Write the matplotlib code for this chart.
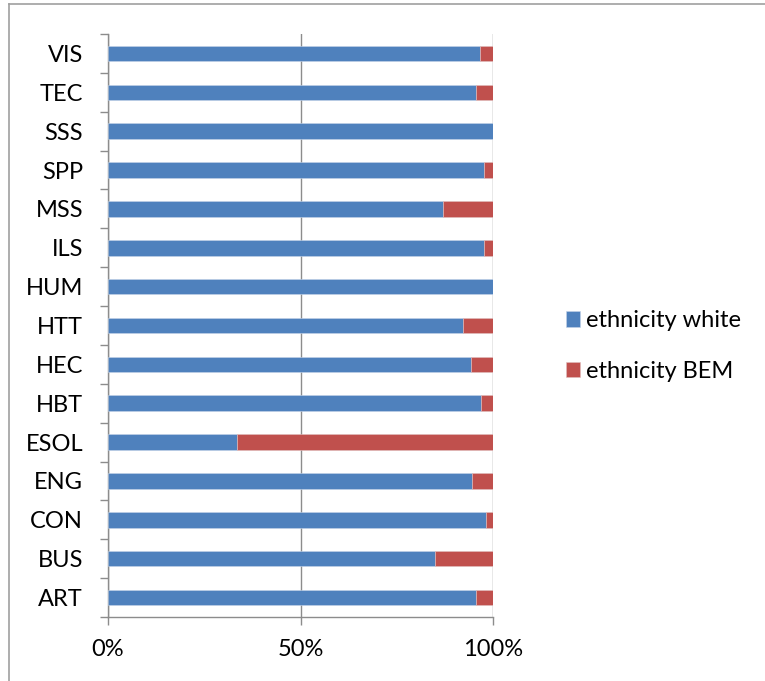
import matplotlib
matplotlib.use("Agg")
import matplotlib.pyplot as plt
from matplotlib.lines import Line2D
from matplotlib.ticker import FuncFormatter, FixedLocator

categories = ["ART", "BUS", "CON", "ENG", "ESOL", "HBT", "HEC", "HTT", "HUM",
              "ILS", "MSS", "SPP", "SSS", "TEC", "VIS"]
white = [0.956, 0.849, 0.982, 0.945, 0.335, 0.968, 0.942, 0.923, 1.0,
         0.977, 0.871, 0.977, 1.0, 0.956, 0.966]
bem = [1 - w for w in white]
xticks = [0, 0.5, 1.0]

plt.rcParams['font.family'] = ['Lato', 'DejaVu Sans']

W, H = 765, 681
fig = plt.figure(figsize=(W / 100, H / 100), dpi=100)
ax = fig.add_axes([108 / W, 1 - 617 / H, (493 - 108) / W, (617 - 34) / H])

gray = "#8c8c8c"
fs = 17
# outer frame (left and top edges visible)
fig.add_artist(Line2D([9 / W, 9 / W], [0, 1 - 4 / H], color="#a0a0a0", lw=1.2,
                      transform=fig.transFigure))
fig.add_artist(Line2D([9 / W, 1], [1 - 4 / H, 1 - 4 / H], color="#a0a0a0", lw=1.2,
                      transform=fig.transFigure))

y = list(range(len(categories)))
ax.barh(y, white, height=0.4, color="#4F81BD", edgecolor="#c6d4e8", linewidth=0.4,
        label="ethnicity white", zorder=3)
ax.barh(y, bem, left=white, height=0.4, color="#C0504D", edgecolor="#e0c0bf",
        linewidth=0.4, label="ethnicity BEM", zorder=3)

ax.set_xlim(0, 1)
ax.set_ylim(-0.5, len(categories) - 0.5)

ax.xaxis.set_major_locator(FixedLocator(xticks))
ax.xaxis.set_major_formatter(FuncFormatter(lambda v, p: f"{int(round(v * 100))}%"))
ax.set_yticks(y)
ax.set_yticklabels(categories)
ax.set_yticks([i - 0.5 for i in range(len(categories) + 1)], minor=True)

ax.tick_params(axis="y", which="major", length=0, pad=18, labelsize=fs, labelcolor="#000000")
ax.tick_params(axis="y", which="minor", length=6, width=1, color=gray, direction="out")
ax.tick_params(axis="x", which="major", length=6, width=1, color=gray, direction="out",
               pad=10, labelsize=fs)

for s in ["top", "right"]:
    ax.spines[s].set_visible(False)
for s in ["left", "bottom"]:
    ax.spines[s].set_color(gray)
    ax.spines[s].set_linewidth(1)

ax.grid(axis="x", color=gray, linewidth=1, zorder=0)
ax.set_axisbelow(True)

leg = fig.legend(loc="center left", bbox_to_anchor=(566 / W, 1 - 346 / H),
                 frameon=False, fontsize=fs, handlelength=0.6, handleheight=0.65,
                 handletextpad=0.25, labelspacing=1.25, borderpad=0, borderaxespad=0)

fig.savefig("out.png", dpi=100)
